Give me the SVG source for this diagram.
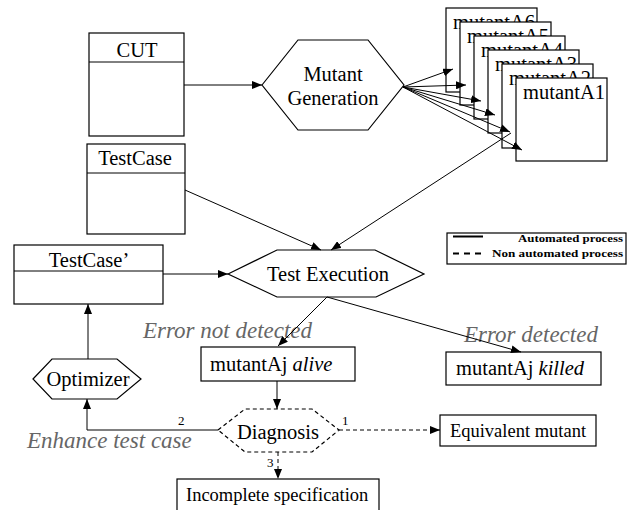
<svg xmlns="http://www.w3.org/2000/svg" width="634" height="510" viewBox="0 0 634 510" font-family="'Liberation Serif', 'DejaVu Serif', serif">
<defs>
<marker id="ah" viewBox="0 0 10 8" refX="10" refY="4" markerWidth="10" markerHeight="8" markerUnits="userSpaceOnUse" orient="auto">
<path d="M0,0 L10,4 L0,8 z" fill="#000"/>
</marker>
<style>
text{font-family:'Liberation Serif','DejaVu Serif',serif;fill:#000}
.t{font-size:20.5px}
.c{text-anchor:middle}
.g{font-style:italic;fill:#666;font-size:23px}
.s{font-size:13px}
.box{fill:#fff;stroke:#000;stroke-width:1.2}
.ln{fill:none;stroke:#000;stroke-width:1}
.ar{fill:none;stroke:#000;stroke-width:1;marker-end:url(#ah)}
.da{stroke-dasharray:4,3}
.lg{font-size:11px;font-weight:bold;text-anchor:end}
</style>
</defs>
<rect width="634" height="510" fill="#fff"/>

<g id="cut">
<rect class="box" x="89" y="33" width="95" height="103"/>
<line class="ln" x1="89" y1="62" x2="184" y2="62"/>
<text class="t c" x="137" y="57">CUT</text>
</g>

<g id="testcase">
<rect class="box" x="87" y="144" width="98" height="90"/>
<line class="ln" x1="87" y1="173" x2="185" y2="173"/>
<text class="t c" x="135" y="165">TestCase</text>
</g>

<g id="testcase2">
<rect class="box" x="14" y="245" width="149" height="59" stroke-width="1.5"/>
<line class="ln" x1="14" y1="271" x2="163" y2="271"/>
<text class="t c" x="89" y="267">TestCase’</text>
</g>

<g id="mutantgen">
<polygon class="box" points="262,85 298,40 368,40 404,85 368,130 298,130"/>
<text class="t c" x="333" y="81">Mutant</text>
<text class="t c" x="333" y="105">Generation</text>
</g>

<g id="mutants">
<g id="mA6"><rect class="box" x="446" y="8" width="91" height="84"/><text class="t" x="453" y="29">mutantA6</text></g>
<g id="mA5"><rect class="box" x="460" y="22" width="91" height="83"/><text class="t" x="467" y="43">mutantA5</text></g>
<g id="mA4"><rect class="box" x="474" y="36" width="91" height="83"/><text class="t" x="481" y="57">mutantA4</text></g>
<g id="mA3"><rect class="box" x="488" y="50" width="91" height="83"/><text class="t" x="495" y="71">mutantA3</text></g>
<g id="mA2"><rect class="box" x="502" y="64" width="91" height="84"/><text class="t" x="509" y="85">mutantA2</text></g>
<g id="mA1"><rect class="box" x="516" y="78" width="91" height="83"/><text class="t" x="523" y="99">mutantA1</text></g>
</g>

<g id="testexec">
<polygon class="box" points="228,274 277,250 375,250 424,274 376,297 277,297"/>
<text class="t c" x="328" y="281">Test Execution</text>
</g>

<g id="legend">
<rect class="box" x="447" y="233" width="179" height="31"/>
<line x1="453" y1="236.5" x2="483" y2="236.5" stroke="#000" stroke-width="2"/>
<line x1="453" y1="253.5" x2="483" y2="253.5" stroke="#000" stroke-width="2" stroke-dasharray="6,5"/>
<text class="lg" x="623" y="242" textLength="105" lengthAdjust="spacingAndGlyphs">Automated process</text>
<text class="lg" x="623" y="257" textLength="131" lengthAdjust="spacingAndGlyphs">Non automated process</text>
</g>

<g id="alive">
<rect class="box" x="201" y="347" width="154" height="34"/>
<text class="t" x="210" y="371">mutantAj  <tspan font-style="italic">alive</tspan></text>
</g>

<g id="killed">
<rect class="box" x="446" y="352" width="155" height="33"/>
<text class="t" x="456" y="375">mutantAj  <tspan font-style="italic">killed</tspan></text>
</g>

<g id="optimizer">
<polygon class="box" points="33,379 52,359 117,359 141,379 117,399 52,399" stroke-width="1.5"/>
<text class="t c" x="88" y="386">Optimizer</text>
</g>

<g id="diagnosis">
<polygon class="box da" points="218,430 245,409 312,409 339,430 312,452 245,452"/>
<text class="t c" x="278" y="439">Diagnosis</text>
</g>

<g id="equivalent">
<rect class="box" x="440" y="415" width="156" height="31"/>
<text class="c" x="518" y="437" font-size="18.5">Equivalent mutant</text>
</g>

<g id="incomplete">
<rect class="box" x="177" y="479" width="202" height="40"/>
<text x="186" y="501" font-size="18.5">Incomplete specification</text>
</g>

<g id="labels">
<text class="g" x="143" y="338">Error not detected</text>
<text class="g" x="464" y="342">Error detected</text>
<text class="g" x="27" y="448">Enhance test case</text>
<text class="s" x="342" y="425">1</text>
<text class="s" x="178" y="425">2</text>
<text class="s" x="267" y="467">3</text>
</g>

<g id="connectors">
<line class="ar" x1="184" y1="85" x2="262" y2="85"/>
<line class="ar" x1="403" y1="87" x2="453" y2="69"/>
<line class="ar" x1="403" y1="87" x2="466" y2="85"/>
<line class="ar" x1="403" y1="87" x2="481" y2="101"/>
<line class="ar" x1="403" y1="87" x2="495" y2="115"/>
<line class="ar" x1="403" y1="87" x2="510" y2="132"/>
<line class="ar" x1="403" y1="87" x2="522" y2="150"/>
<line class="ar" x1="511" y1="133" x2="331" y2="250"/>
<line class="ar" x1="185" y1="190" x2="321" y2="250"/>
<line class="ar" x1="163" y1="274" x2="228" y2="274"/>
<line class="ar" x1="327" y1="297" x2="278" y2="346"/>
<line class="ar" x1="327" y1="297" x2="521" y2="352"/>
<line class="ar" x1="277" y1="381" x2="277" y2="409"/>
<line class="ar" x1="88" y1="359" x2="88" y2="304"/>
<polyline class="ar" points="218,430 87,430 87,399"/>
<line class="ar da" x1="339" y1="430" x2="440" y2="430"/>
<line class="ar da" x1="278" y1="452" x2="278" y2="479"/>
</g>
</svg>
